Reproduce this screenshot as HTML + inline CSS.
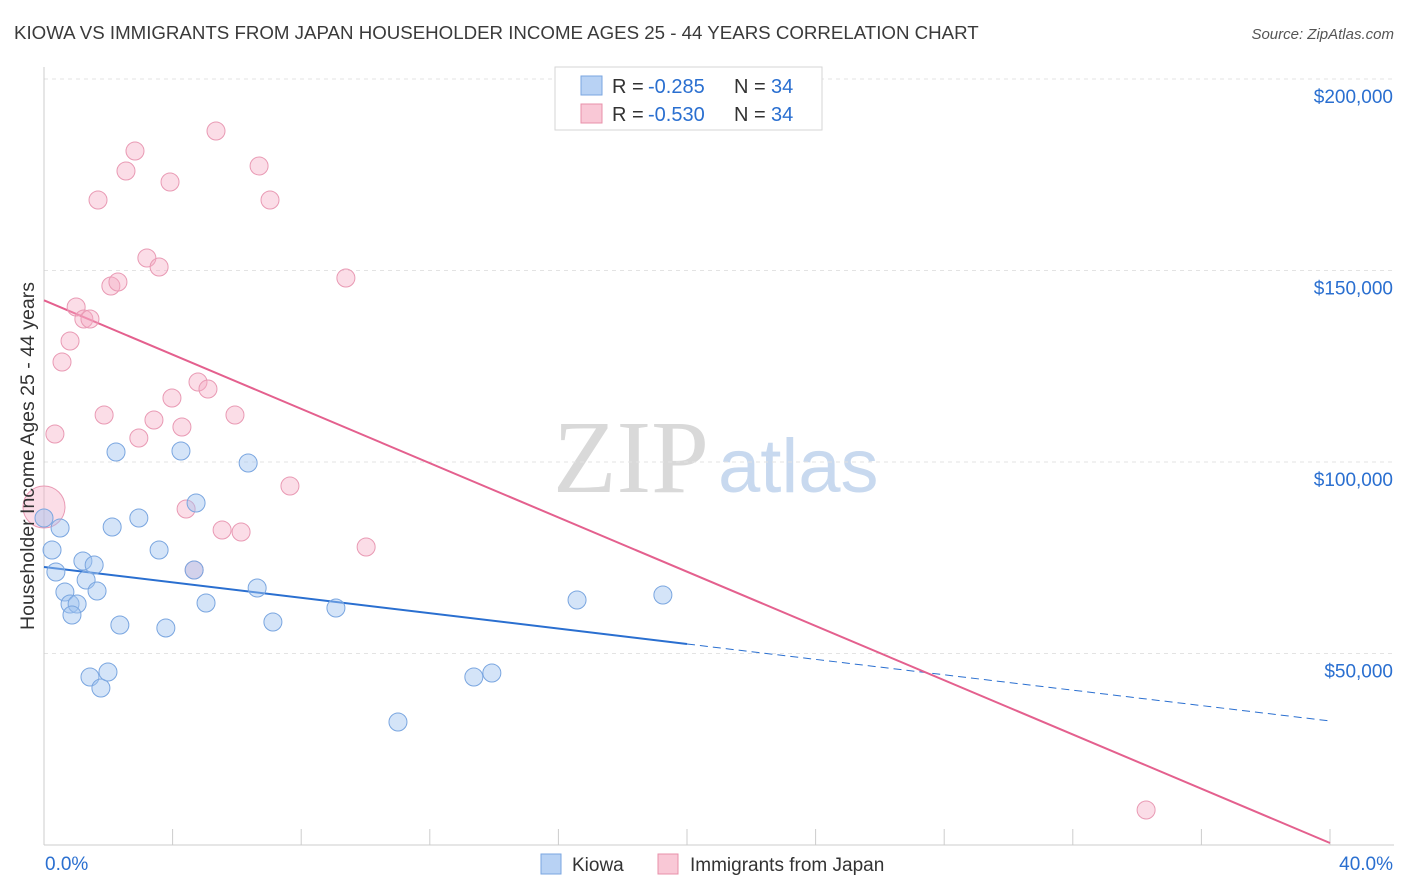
<!DOCTYPE html>
<html><head><meta charset="utf-8"><style>
body{margin:0;background:#fff;font-family:"Liberation Sans",sans-serif;}
svg{display:block}
</style></head><body>
<svg id="chart" width="1406" height="892">
<text x="14" y="39" font-size="18.7" fill="#3a3a3a">KIOWA VS IMMIGRANTS FROM JAPAN HOUSEHOLDER INCOME AGES 25 - 44 YEARS CORRELATION CHART</text>
<text x="1394" y="39" font-size="15" fill="#555" font-style="italic" text-anchor="end">Source: ZipAtlas.com</text>
<g>
<text x="553" y="492" font-size="104" font-family="Liberation Serif,serif" fill="#d9d9d9">ZIP</text>
<text x="718" y="492" font-size="76" fill="#c8d9ef">atlas</text>
</g>
<g id="grid"></g>
<g id="axes"></g>
<g id="trends"></g>
<g id="points"></g>
<g>
<rect x="555" y="67" width="267" height="63" fill="#fff" stroke="#d6d6d6"/>
<rect x="581" y="76" width="21" height="19" fill="#b8d2f4" stroke="#7aa6e0"/>
<text x="612" y="93" font-size="20" fill="#333">R =</text>
<text x="648" y="93" font-size="20" fill="#2a6fd0">-0.285</text>
<text x="734" y="93" font-size="20" fill="#333">N =</text>
<text x="771" y="93" font-size="20" fill="#2a6fd0">34</text>
<rect x="581" y="104" width="21" height="19" fill="#f9c8d6" stroke="#e890aa"/>
<text x="612" y="121" font-size="20" fill="#333">R =</text>
<text x="648" y="121" font-size="20" fill="#2a6fd0">-0.530</text>
<text x="734" y="121" font-size="20" fill="#333">N =</text>
<text x="771" y="121" font-size="20" fill="#2a6fd0">34</text>
</g>
<g>
<rect x="541" y="854" width="20" height="20" fill="#b8d2f4" stroke="#7aa6e0"/>
<text x="572" y="871" font-size="19" fill="#333">Kiowa</text>
<rect x="658" y="854" width="20" height="20" fill="#f9c8d6" stroke="#e890aa"/>
<text x="690" y="871" font-size="19" fill="#333">Immigrants from Japan</text>
</g>
<text x="34" y="456" font-size="19.5" fill="#333" text-anchor="middle" transform="rotate(-90 34 456)">Householder Income Ages 25 - 44 years</text>
</svg>
<script>
const yTicks=[50000,100000,150000,200000];
const yTickLabels=["$50,000","$100,000","$150,000","$200,000"];
const xTickLabels=["0.0%","40.0%"];
const kiowaX=[0,0.5,0.25,0.37,1.21,1.56,1.31,0.65,1.65,0.81,1.03,0.87,2.24,2.12,2.95,3.58,4.26,4.73,4.67,5.04,3.79,2.36,1.43,1.77,1.99,6.35,6.63,7.12,9.08,11.01,13.37,13.93,16.58,19.25];
const kiowaY=[85380,82770,77020,71280,74150,73110,69190,66060,66320,62930,62930,60050,102610,83030,85380,77020,102870,89300,71800,63190,56660,57440,43860,40990,45170,99740,67100,58230,61880,32120,43860,44910,63970,65280];
const japanX=[0,0.34,0.56,0.81,1.0,1.24,1.43,1.68,1.87,2.08,2.30,2.55,2.83,2.95,3.20,3.42,3.58,3.92,3.98,4.29,4.42,4.67,4.79,5.10,5.35,5.54,5.94,6.13,6.69,7.03,7.65,9.39,10.02,34.28];
const japanY=[88250,107310,126110,131600,140470,137340,137340,168410,112270,145950,147000,175980,181200,106270,153270,110970,150920,173110,116710,109140,87730,71800,120890,119060,186420,82250,112270,81720,177290,168410,93730,148040,77810,9140];
const kiowaTrend=[72590,32380];
const japanTrend=[142210,520];
const NS="http://www.w3.org/2000/svg";
const X=v=>44+v/40*1286, Y=v=>845-v/50000*191.5;
function mk(t,a,p){const e=document.createElementNS(NS,t);for(const k in a)e.setAttribute(k,a[k]);p.appendChild(e);return e;}
const grid=document.getElementById('grid'),axes=document.getElementById('axes');
yTicks.forEach((t,i)=>{
 const l=mk('line',{x1:44,x2:1394,y1:Y(t),y2:Y(t),stroke:'#e3e3e3','stroke-dasharray':'4 4'},grid);
 
 
 const tx=mk('text',{x:1393,y:Y(t)+24,'font-size':19,fill:'#2a6fd0','text-anchor':'end'},axes);
 tx.textContent=yTickLabels[i];
 
 
});
const ya=mk('line',{x1:44,x2:44,y1:67,y2:845,stroke:'#ccc'},axes);


const xa=mk('line',{x1:44,x2:1394,y1:845,y2:845,stroke:'#ccc'},axes);


for(let i=1;i<=10;i++){const t=mk('line',{x1:X(i*4),x2:X(i*4),y1:829,y2:845,stroke:'#ccc'},axes);
 
 }
[[0,'start',45],[40,'end',1393]].forEach((a,i)=>{const t=mk('text',{x:a[2],y:870,'font-size':19,fill:'#2a6fd0','text-anchor':a[1]},axes);t.textContent=xTickLabels[i];
 
 });
const tr=document.getElementById('trends');
const kyAt=x=>kiowaTrend[0]+(kiowaTrend[1]-kiowaTrend[0])*x/40;
let e=mk('line',{x1:X(0),y1:Y(kyAt(0)),x2:X(20),y2:Y(kyAt(20)),stroke:'#2a6fd0','stroke-width':2},tr);


e=mk('line',{x1:X(20),y1:Y(kyAt(20)),x2:X(40),y2:Y(kyAt(40)),stroke:'#2a6fd0','stroke-width':1,'stroke-dasharray':'8 5'},tr);


e=mk('line',{x1:X(0),y1:Y(japanTrend[0]),x2:X(40),y2:Y(japanTrend[1]),stroke:'#e4608e','stroke-width':2},tr);


const pg=document.getElementById('points');
japanX.forEach((x,i)=>{const c=mk('circle',{cx:X(x),cy:Y(japanY[i]),r:i==0?21:9,fill:'rgba(244,170,195,0.4)',stroke:'#e99ab4','stroke-width':1},pg);
 
 });
kiowaX.forEach((x,i)=>{const c=mk('circle',{cx:X(x),cy:Y(kiowaY[i]),r:9,fill:'rgba(160,195,240,0.45)',stroke:'#7aa6e0','stroke-width':1},pg);
 
 });
</script>
</body></html>
